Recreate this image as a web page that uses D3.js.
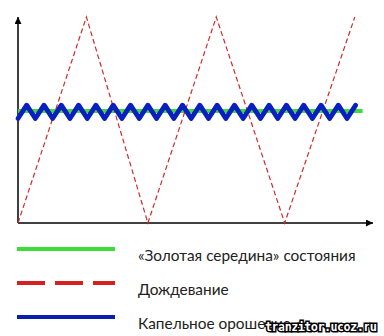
<!DOCTYPE html>
<html>
<head>
<meta charset="utf-8">
<script src="https://cdn.jsdelivr.net/npm/d3@7"></script>
<style>
  body { margin: 0; background: #fff; }
  svg { display: block; }
</style>
</head>
<body>
<svg></svg>
<script>
const width = 384;
const height = 336;
let svg = d3.select("svg")
  .attr("width", width)
  .attr("height", height);

// данные
const redT = [0, 3.95, 7.5, 11.45, 15.4, 19.45];
const redV = [0, 1, 0, 1, 0, 1];

const greenT = [0, 19.9];
const greenV = [0.544, 0.544];

const blueT = [0, 0.5, 1, 1.5, 2, 2.5, 3, 3.5, 4, 4.5, 5, 5.5, 6, 6.5, 7, 7.5, 8, 8.5, 9, 9.5,
  10, 10.5, 11, 11.5, 12, 12.5, 13, 13.5, 14, 14.5, 15, 15.5, 16, 16.5, 17, 17.5, 18, 18.5, 19, 19.5];
const blueV = [0.507, 0.572, 0.507, 0.572, 0.507, 0.572, 0.507, 0.572, 0.507, 0.572,
  0.507, 0.572, 0.507, 0.572, 0.507, 0.572, 0.507, 0.572, 0.507, 0.572,
  0.507, 0.572, 0.507, 0.572, 0.507, 0.572, 0.507, 0.572, 0.507, 0.572,
  0.507, 0.572, 0.507, 0.572, 0.507, 0.572, 0.507, 0.572, 0.507, 0.572];

const legendLabels = ["«Золотая середина» состояния", "Дождевание", "Капельное орошение"];

// шкалы
const x = d3.scaleLinear().domain([0, 20.5]).range([18, 373]);
const y = d3.scaleLinear().domain([0, 1]).range([223, 17]);

const line = d3.line()
  .x(d => x(d[0]))
  .y(d => y(d[1]));

// стрелки осей
svg.append("defs").append("marker")
  .attr("id", "arrow")
  .attr("viewBox", "0 0 10 10")
  .attr("refX", 10)
  .attr("refY", 5)
  .attr("markerWidth", 8)
  .attr("markerHeight", 7)
  .attr("markerUnits", "userSpaceOnUse")
  .attr("orient", "auto")
  .append("path")
  .attr("d", "M0,0 L10,5 L0,10 Z")
  .attr("fill", "#000");

// оси
svg.append("line")
  .attr("x1", x(0)).attr("y1", y(0))
  .attr("x2", x(0)).attr("y2", y(1))
  .attr("stroke", "#000")
  .attr("stroke-width", 1.5)
  .attr("marker-end", "url(#arrow)");

svg.append("line")
  .attr("x1", x(0)).attr("y1", y(0))
  .attr("x2", x(20.5)).attr("y2", y(0))
  .attr("stroke", "#000")
  .attr("stroke-width", 1.5)
  .attr("marker-end", "url(#arrow)");

// зелёная линия
svg.append("path")
  .attr("d", line(d3.zip(greenT, greenV)))
  .attr("fill", "none")
  .attr("stroke", "#3ddc3d")
  .attr("stroke-width", 4);

// красная пунктирная
svg.append("path")
  .attr("d", line(d3.zip(redT, redV)))
  .attr("fill", "none")
  .attr("stroke", "#d42a2a")
  .attr("stroke-width", 1.2)
  .attr("stroke-dasharray", "5,3");

// синяя зигзаг
svg.append("path")
  .attr("d", line(d3.zip(blueT, blueV)))
  .attr("fill", "none")
  .attr("stroke", "#0a1fbf")
  .attr("stroke-width", 4.8)
  .attr("stroke-linejoin", "round")
  .attr("stroke-linecap", "round");

// легенда
const legendColors = ["#3ddc3d", "#d42020", "#0a1fb0"];
const legendDash = [null, "28,10", null];
const legendY = [249, 283, 317];

legendLabels.forEach((label, i) => {
  svg.append("line")
    .attr("x1", 17).attr("x2", 115)
    .attr("y1", legendY[i]).attr("y2", legendY[i])
    .attr("stroke", legendColors[i])
    .attr("stroke-width", 4)
    .attr("stroke-dasharray", legendDash[i]);

  svg.append("text")
    .attr("x", 138)
    .attr("y", legendY[i] + 12)
    .attr("font-family", "Lato, 'Open Sans', sans-serif")
    .attr("font-size", 15.4)
    .attr("fill", "#222")
    .text(label);
});

// водяной знак
svg.append("text")
  .attr("x", 265)
  .attr("y", 331)
  .attr("font-family", "'DejaVu Sans Mono', monospace")
  .attr("font-weight", "bold")
  .attr("font-size", 12)
  .attr("textLength", 112)
  .attr("fill", "#fff")
  .attr("stroke", "#000")
  .attr("stroke-width", 3)
  .attr("paint-order", "stroke")
  .text("tranzitor.ucoz.ru");
</script>
</body>
</html>
